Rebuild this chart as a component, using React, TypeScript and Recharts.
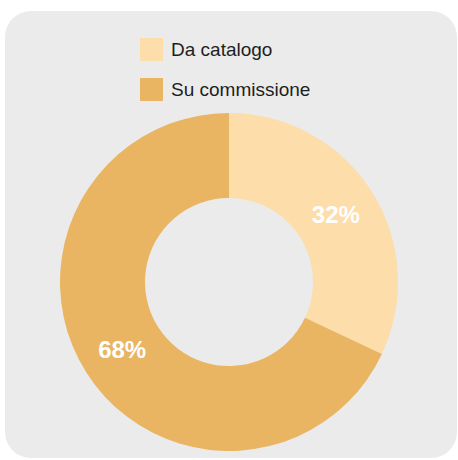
import React from "react";
import { PieChart, Pie, Cell, Legend } from "recharts";

const categories = ["Da catalogo", "Su commissione"];
const values = [32, 68];
const colors = ["#FDDDAA", "#E9B562"];

const data = categories.map((name, i) => ({ name, value: values[i] }));

const RADIAN = Math.PI / 180;

const renderLabel = (props: any) => {
  const { cx, cy, midAngle, innerRadius, outerRadius, value } = props;
  const r = (innerRadius + outerRadius) / 2;
  const x = cx + r * Math.cos(-midAngle * RADIAN);
  const y = cy + r * Math.sin(-midAngle * RADIAN);
  return (
    <text
      x={x}
      y={y}
      fill="#ffffff"
      textAnchor="middle"
      dominantBaseline="central"
      fontSize={24}
      fontWeight={600}
      fontFamily="'Liberation Sans', Arial, sans-serif"
    >
      {`${value}%`}
    </text>
  );
};

const renderLegend = (props: any) => {
  const { payload } = props;
  return (
    <div style={{ fontFamily: "'Liberation Sans', Arial, sans-serif" }}>
      {(payload || []).map((entry: any, i: number) => (
        <div
          key={i}
          style={{ display: "flex", alignItems: "center", height: 23, marginBottom: 17 }}
        >
          <div style={{ width: 23, height: 23, background: entry.color, marginRight: 8 }} />
          <span style={{ fontSize: 19, color: "#1e1e1e", lineHeight: "23px" }}>{entry.value}</span>
        </div>
      ))}
    </div>
  );
};

export default function App() {
  return (
    <div style={{ position: "fixed", left: 0, top: 0, width: 458, height: 460, background: "#ffffff" }}>
      <div
        style={{
          position: "absolute",
          left: 5,
          top: 11,
          width: 452,
          height: 447,
          borderRadius: 26,
          background: "#EBEBEB",
        }}
      />
      <div style={{ position: "absolute", left: 0, top: 0 }}>
        <PieChart width={458} height={460} margin={{ top: 0, right: 0, bottom: 0, left: 0 }}>
          <Legend
            layout="vertical"
            align="center"
            verticalAlign="middle"
            content={renderLegend}
            wrapperStyle={{ top: 38, left: 140, width: 250, height: 70 }}
          />
          <Pie
            data={data}
            dataKey="value"
            nameKey="name"
            cx={229}
            cy={282}
            innerRadius={84}
            outerRadius={169}
            startAngle={90}
            endAngle={-270}
            stroke="none"
            label={renderLabel}
            labelLine={false}
            isAnimationActive={false}
          >
            {data.map((d, i) => (
              <Cell key={d.name} fill={colors[i]} />
            ))}
          </Pie>
        </PieChart>
      </div>
    </div>
  );
}
